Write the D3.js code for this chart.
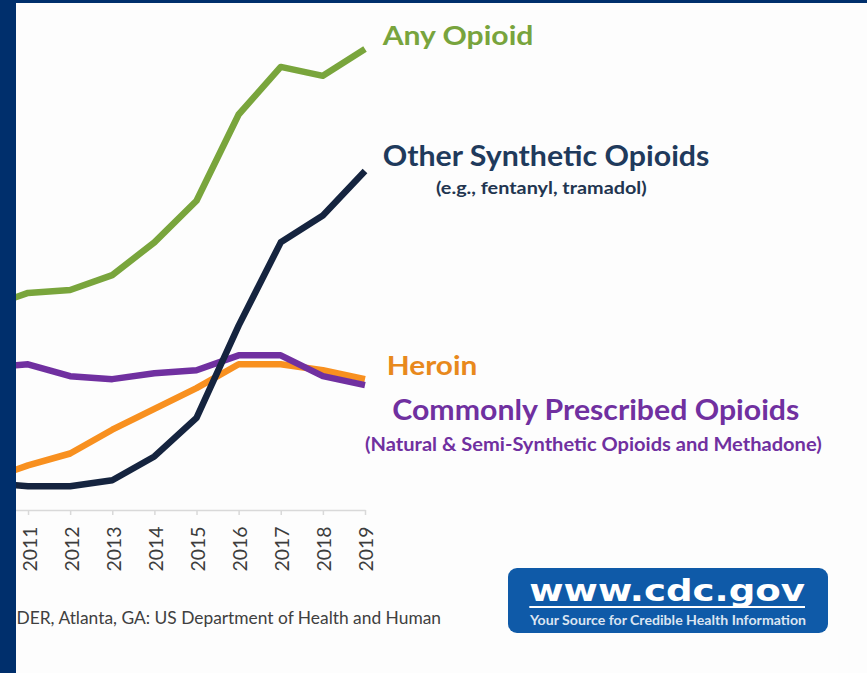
<!DOCTYPE html>
<html>
<head>
<meta charset="utf-8">
<script src="https://cdn.jsdelivr.net/npm/d3@7/dist/d3.min.js"></script>
<style>
  html, body { margin: 0; padding: 0; background: #ffffff; }
  svg { display: block; }
</style>
</head>
<body>
<div id="chart"></div>
<script>
// Opioid overdose death rates per 100,000, by opioid type
const years = [2010, 2011, 2012, 2013, 2014, 2015, 2016, 2017, 2018, 2019];
const tickYears = [2011, 2012, 2013, 2014, 2015, 2016, 2017, 2018, 2019];

const anyOpioid        = [6.8, 7.3, 7.4, 7.9, 9.0, 10.4, 13.3, 14.9, 14.6, 15.5];
const syntheticOpioids = [0.9, 0.8, 0.8, 1.0, 1.8, 3.1, 6.2, 9.0, 9.9, 11.4];
const heroin           = [1.0, 1.5, 1.9, 2.7, 3.4, 4.1, 4.9, 4.9, 4.7, 4.4];
const prescribed       = [4.8, 4.9, 4.5, 4.4, 4.6, 4.7, 5.2, 5.2, 4.5, 4.2];

const seriesNames = ["Any Opioid", "Other Synthetic Opioids", "Heroin", "Commonly Prescribed Opioids"];
const footnote = "DER, Atlanta, GA: US Department of Health and Human";

const W = 867, H = 673;
const colors = {
  green: "#79a53c",
  navy: "#15243f",
  orange: "#f8901f",
  purple: "#7030a0",
  frame: "#002f6c",
  logo: "#0f5aa8"
};

const svg = d3.select("#chart").append("svg")
  .attr("width", W).attr("height", H)
  .attr("viewBox", `0 0 ${W} ${H}`);

svg.append("rect").attr("width", W).attr("height", H).attr("fill", "#fdfdfd");

svg.append("defs").append("clipPath").attr("id", "plotClip")
  .append("rect").attr("x", 16).attr("y", 0).attr("width", W).attr("height", H);

const x = d3.scalePoint().domain(years).range([-14.1, 365]);
const y = d3.scaleLinear().domain([0, 16]).range([510, 34.2]);

const plot = svg.append("g").attr("clip-path", "url(#plotClip)");

// x axis
const axis = plot.append("g")
  .attr("transform", "translate(0,510)")
  .call(d3.axisBottom(x).tickValues(tickYears).tickSize(5).tickSizeOuter(0));
axis.select(".domain").attr("stroke", "#d9d9d9").attr("stroke-width", 1.5);
axis.selectAll(".tick line").attr("stroke", "#d9d9d9").attr("stroke-width", 1.5);
axis.selectAll(".tick text")
  .attr("transform", "rotate(-90)")
  .attr("x", -16.5)
  .attr("y", 0)
  .attr("dy", "0.42em")
  .attr("text-anchor", "end")
  .attr("fill", "#3c3c3c")
  .style("font-family", "Lato, 'Open Sans', sans-serif")
  .style("font-size", "19px")
  .attr("textLength", 45)
  .attr("lengthAdjust", "spacingAndGlyphs");

// lines
const line = d3.line().x((d, i) => x(years[i])).y(d => y(d));
const series = [
  { values: anyOpioid, color: colors.green },
  { values: heroin, color: colors.orange },
  { values: prescribed, color: colors.purple },
  { values: syntheticOpioids, color: colors.navy }
];
plot.selectAll("path.series").data(series).join("path")
  .attr("class", "series")
  .attr("d", d => line(d.values))
  .attr("fill", "none")
  .attr("stroke", d => d.color)
  .attr("stroke-width", 6.5)
  .attr("stroke-linejoin", "round");

// series labels
const labelFont = "Lato, 'Open Sans', sans-serif";
const labels = [
  { text: seriesNames[0], x: 382.7, y: 45, size: 27, w: 150.7, color: "#78a43d" },
  { text: seriesNames[1], x: 382.7, y: 166, size: 28, w: 326.7, color: "#1f3a5c" },
  { text: "(e.g., fentanyl, tramadol)", x: 436, y: 193.5, size: 17, w: 210.7, color: "#223550" },
  { text: seriesNames[2], x: 386.7, y: 375, size: 27, w: 90.7, color: "#e8891c" },
  { text: seriesNames[3], x: 392.3, y: 420, size: 28, w: 407, color: "#7030a0" },
  { text: "(Natural & Semi-Synthetic Opioids and Methadone)", x: 365, y: 451, size: 18, w: 456.7, color: "#7030a0" }
];
svg.selectAll("text.series-label").data(labels).join("text")
  .attr("class", "series-label")
  .attr("x", d => d.x).attr("y", d => d.y)
  .attr("fill", d => d.color)
  .style("font-family", labelFont)
  .style("font-weight", 700)
  .style("font-size", d => d.size + "px")
  .attr("textLength", d => d.w)
  .attr("lengthAdjust", "spacingAndGlyphs")
  .text(d => d.text);

// source note
svg.append("text")
  .attr("x", 16.5).attr("y", 624)
  .attr("fill", "#404040")
  .style("font-family", labelFont)
  .style("font-size", "16.5px")
  .attr("textLength", 424.5)
  .attr("lengthAdjust", "spacingAndGlyphs")
  .text(footnote);

// website badge
const badge = svg.append("g");
badge.append("rect")
  .attr("x", 508).attr("y", 568).attr("width", 320).attr("height", 65)
  .attr("rx", 9).attr("fill", colors.logo);
badge.append("text")
  .attr("x", 529.3).attr("y", 600.5)
  .attr("fill", "#ffffff")
  .style("font-family", "'DejaVu Sans', Verdana, sans-serif")
  .style("font-weight", 700)
  .style("font-size", "31px")
  .attr("textLength", 275.7)
  .attr("lengthAdjust", "spacingAndGlyphs")
  .text("www.cdc.gov");
badge.append("line")
  .attr("x1", 529.3).attr("x2", 805).attr("y1", 607).attr("y2", 607)
  .attr("stroke", "#ffffff").attr("stroke-width", 2);
badge.append("text")
  .attr("x", 530).attr("y", 625)
  .attr("fill", "#dbe5f2")
  .style("font-family", labelFont)
  .style("font-weight", 700)
  .style("font-size", "13px")
  .attr("textLength", 276)
  .attr("lengthAdjust", "spacingAndGlyphs")
  .text("Your Source for Credible Health Information");

// slide frame
svg.append("rect").attr("x", 0).attr("y", 0).attr("width", 16).attr("height", H).attr("fill", colors.frame);
svg.append("rect").attr("x", 0).attr("y", 0).attr("width", W).attr("height", 3).attr("fill", colors.frame);
</script>
</body>
</html>
